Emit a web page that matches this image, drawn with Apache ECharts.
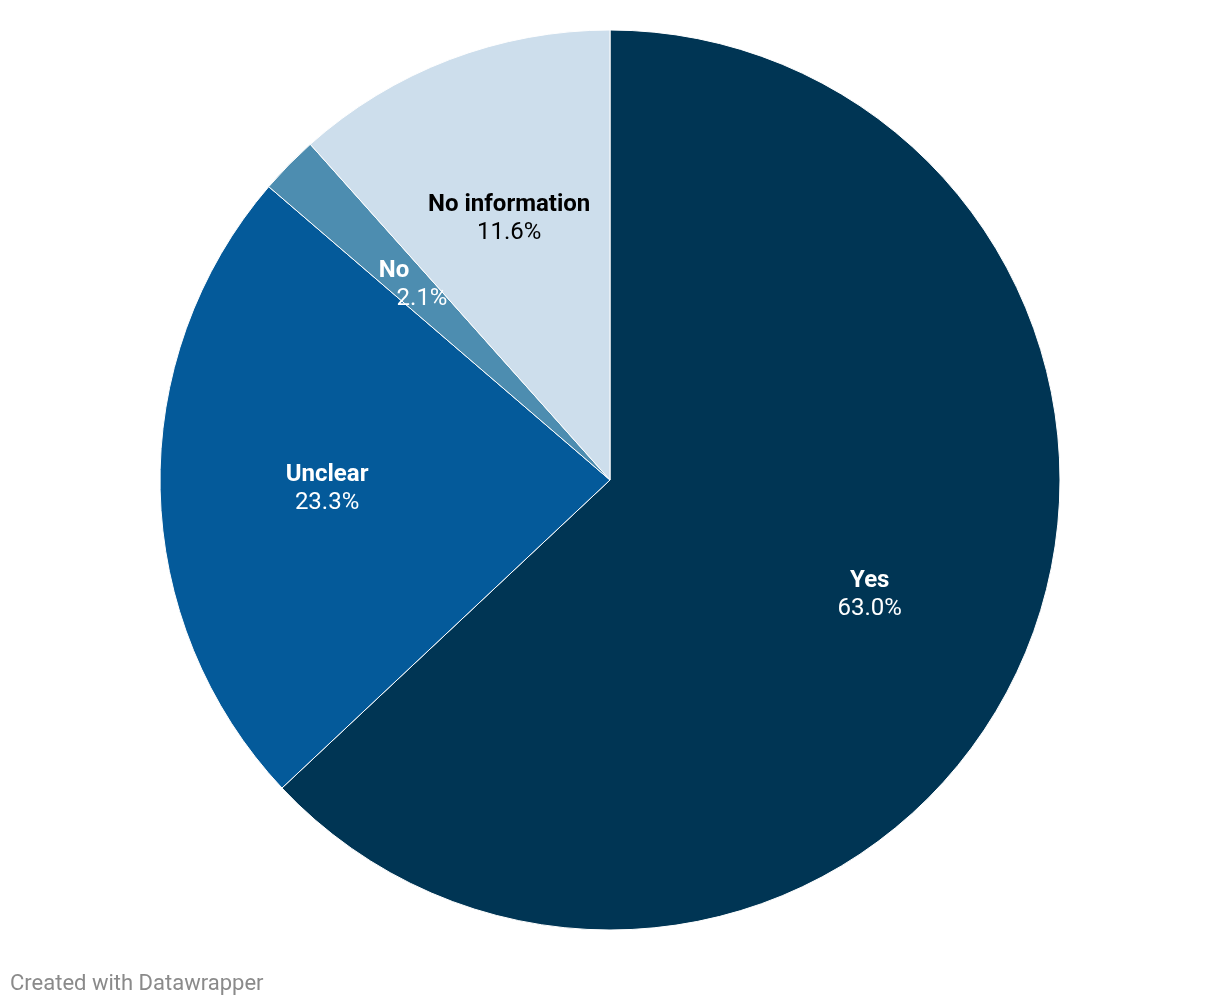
<!DOCTYPE html>
<html>
<head>
<meta charset="utf-8">
<script src="https://cdn.jsdelivr.net/npm/echarts@6/dist/echarts.min.js"></script>
<style>
html,body{margin:0;padding:0;background:#fff;}
#chart{width:1220px;height:1006px;}
</style>
</head>
<body>
<div id="chart"></div>
<script>
const categories = ["Yes", "Unclear", "No", "No information"];
const values = [63.0, 23.3, 2.1, 11.6];

const colors = ["#003554", "#045a9a", "#4d8db0", "#cddeec"];
const labelColors = ["#ffffff", "#ffffff", "#ffffff", "#000000"];

const chart = echarts.init(document.getElementById('chart'), null, {renderer: 'canvas'});
const baseData = categories.map((c, i) => ({
  name: c, value: values[i],
  itemStyle: {color: colors[i]}
}));
const labelData = categories.map((c, i) => ({
  name: c, value: values[i],
  label: {color: labelColors[i]}
}));

const fs = 24;
const lh = 28;
chart.setOption({
  animation: false,
  backgroundColor: '#ffffff',
  graphic: [{
    type: 'text', left: 10, top: 973,
    style: {text: 'Created with Datawrapper', fill: '#8a8a8a', fontFamily: 'Roboto', fontSize: 22}
  }],
  series: [
    {
      type: 'pie', center: [610, 480], radius: [0, 450],
      startAngle: 90, clockwise: true,
      data: baseData,
      label: {show: false}, labelLine: {show: false},
      itemStyle: {borderColor: '#ffffff', borderWidth: 1},
      emphasis: {disabled: true}, silent: true
    },
    {
      type: 'pie', center: [610, 480], radius: [110, 450],
      startAngle: 90, clockwise: true,
      data: labelData,
      itemStyle: {color: 'rgba(0,0,0,0)'},
      labelLine: {show: false},
      label: {
        show: true, position: 'inside', offset: [0, 3],
        fontFamily: 'Roboto', fontSize: fs, lineHeight: lh,
        formatter: p => {
          const v = p.value.toFixed(1) + '%';
          if (p.dataIndex === 2) return '{bl|' + p.name + '}\n{vr|' + v + '}';
          return '{b|' + p.name + '}\n{v|' + v + '}';
        },
        rich: {
          b: {fontFamily: 'Roboto', fontWeight: 'bold', fontSize: fs, lineHeight: lh, align: 'center'},
          v: {fontFamily: 'Roboto', fontSize: fs, lineHeight: lh, align: 'center'},
          bl: {fontFamily: 'Roboto', fontWeight: 'bold', fontSize: fs, lineHeight: lh, align: 'center', padding: [0, 28, 0, 0]},
          vr: {fontFamily: 'Roboto', fontSize: fs, lineHeight: lh, align: 'center', padding: [0, 0, 0, 28]}
        }
      },
      emphasis: {disabled: true}, silent: true
    }
  ]
});
</script>
</body>
</html>
